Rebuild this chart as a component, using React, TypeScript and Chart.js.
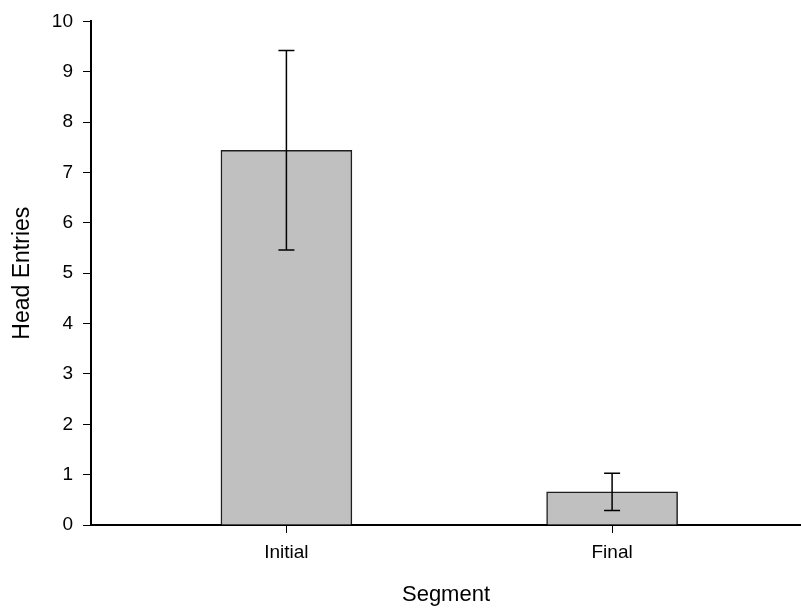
import React, { useEffect, useRef } from "react";
import { Chart, registerables } from "chart.js";

Chart.register(...registerables);

const categories = ["Initial", "Final"];
const means = [7.44, 0.66];
const errLow = [5.46, 0.29];
const errHigh = [9.42, 1.03];
const yTicks = [0, 1, 2, 3, 4, 5, 6, 7, 8, 9, 10];

const FONT = "'Liberation Sans', Arial, sans-serif";

const errorBarPlugin = {
  id: "errorBars",
  afterDatasetsDraw(chart: any) {
    const ctx = chart.ctx;
    const xs = chart.scales.x;
    const ys = chart.scales.y;
    ctx.save();
    ctx.strokeStyle = "#000";
    ctx.lineWidth = 1.5;
    categories.forEach((_, i) => {
      const x = xs.getPixelForValue(i);
      const yl = ys.getPixelForValue(errLow[i]);
      const yh = ys.getPixelForValue(errHigh[i]);
      const cap = 8;
      ctx.beginPath();
      ctx.moveTo(x, yl);
      ctx.lineTo(x, yh);
      ctx.moveTo(x - cap, yh);
      ctx.lineTo(x + cap, yh);
      ctx.moveTo(x - cap, yl);
      ctx.lineTo(x + cap, yl);
      ctx.stroke();
    });
    ctx.restore();
  },
};

export default function App() {
  const ref = useRef<HTMLCanvasElement | null>(null);

  useEffect(() => {
    if (!ref.current) return;
    const chart = new Chart(ref.current, {
      type: "bar",
      data: {
        datasets: [
          {
            data: means.map((v, i) => ({ x: i, y: v })),
            backgroundColor: "#c0c0c0",
            borderColor: "#1e1e1e",
            borderWidth: 1.5,
            barThickness: 131,
          } as any,
        ],
      },
      options: {
        animation: false,
        responsive: false,
        layout: { padding: { top: 21, right: 0, left: 0, bottom: 0 } },
        plugins: { legend: { display: false }, tooltip: { enabled: false } },
        scales: {
          x: {
            type: "linear",
            min: -0.6,
            max: 1.58,
            offset: false,
            afterBuildTicks: (scale: any) => {
              scale.ticks = categories.map((_, i) => ({ value: i }));
            },
            afterFit: (scale: any) => {
              scale.height = 91;
            },
            ticks: {
              callback: (v: any) => categories[v] ?? "",
              color: "#000",
              padding: 8,
              font: { family: FONT, size: 19 },
              maxRotation: 0,
            },
            grid: {
              display: true,
              offset: false,
              drawOnChartArea: false,
              drawTicks: true,
              tickLength: 8,
              color: "#000",
              lineWidth: 1,
            },
            border: { display: true, color: "#000", width: 2 },
            title: {
              display: true,
              text: "Segment",
              color: "#000",
              font: { family: FONT, size: 22 },
              padding: { top: 0, bottom: 8.3 },
            },
          },
          y: {
            type: "linear",
            min: 0,
            max: 10,
            afterBuildTicks: (scale: any) => {
              scale.ticks = yTicks.map((v) => ({ value: v }));
            },
            afterFit: (scale: any) => {
              scale.width = 91;
            },
            ticks: {
              color: "#000",
              padding: 10,
              font: { family: FONT, size: 19 },
            },
            grid: {
              display: true,
              drawOnChartArea: false,
              drawTicks: true,
              tickLength: 8,
              color: "#000",
              lineWidth: 1,
            },
            border: { display: true, color: "#000", width: 2 },
            title: {
              display: true,
              text: "Head Entries",
              color: "#000",
              font: { family: FONT, size: 23 },
              padding: { top: 9, bottom: 0 },
            },
          },
        },
      } as any,
      plugins: [errorBarPlugin],
    });
    return () => chart.destroy();
  }, []);

  return (
    <div style={{ position: "fixed", left: 0, top: 0, width: 801, height: 616, background: "#fff" }}>
      <canvas ref={ref} width={801} height={616} style={{ display: "block" }} />
    </div>
  );
}
